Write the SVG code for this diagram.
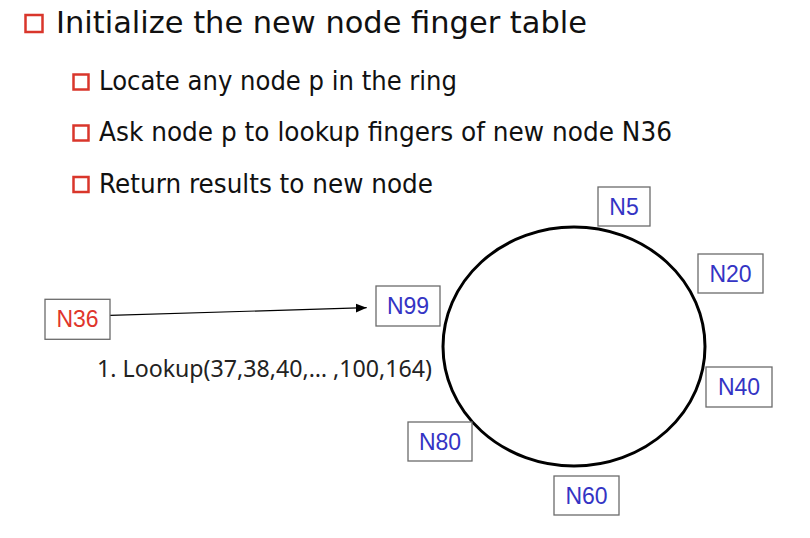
<svg xmlns="http://www.w3.org/2000/svg" width="810" height="538" viewBox="0 0 810 538">
<defs>
<style>
.bul{fill:none;stroke:#d9362b;stroke-width:2.5}
.h1{font-family:"DejaVu Sans","Noto Sans",sans-serif;font-size:30px;fill:#111}
.h2{font-family:"DejaVu Sans","Noto Sans",sans-serif;font-size:26px;fill:#111}
.box{fill:#fff;stroke:#6b6b6b;stroke-width:1.3}
.lbl{font-family:"Liberation Sans",Arial,sans-serif;font-size:23px;text-anchor:middle;fill:#3434c4}
.red{fill:#e0352b}
.cap{font-family:"Noto Sans","Open Sans",sans-serif;font-size:23px;fill:#222}
</style>
<marker id="arr" markerWidth="12" markerHeight="10" refX="11" refY="4.5" orient="auto" markerUnits="userSpaceOnUse">
<path d="M0,0 L11,4.5 L0,9 z" fill="#000"/>
</marker>
</defs>
<rect width="810" height="538" fill="#fff"/>
<g id="text">
<rect class="bul" x="25.5" y="15" width="17" height="17"/>
<text class="h1" x="56" y="33" textLength="531" lengthAdjust="spacingAndGlyphs">Initialize the new node finger table</text>
<rect class="bul" x="73.5" y="74.5" width="15" height="15"/>
<text class="h2" x="99" y="89.5" textLength="358" lengthAdjust="spacingAndGlyphs">Locate any node p in the ring</text>
<rect class="bul" x="73.5" y="125.5" width="15" height="15"/>
<text class="h2" x="99" y="141" textLength="573" lengthAdjust="spacingAndGlyphs">Ask node p to lookup fingers of new node N36</text>
<rect class="bul" x="73.5" y="177" width="15" height="15"/>
<text class="h2" x="99" y="192.5" textLength="334" lengthAdjust="spacingAndGlyphs">Return results to new node</text>
</g>
<g id="ring">
<ellipse cx="574" cy="346.5" rx="131" ry="119.5" fill="none" stroke="#000" stroke-width="3"/>
</g>
<g id="connectors">
<line x1="110" y1="315.3" x2="366.7" y2="307.7" stroke="#000" stroke-width="1.2" marker-end="url(#arr)"/>
<text class="cap" x="97" y="377.3" textLength="335" lengthAdjust="spacingAndGlyphs">1. Lookup(37,38,40,… ,100,164)</text>
</g>
<g id="N36"><rect class="box" x="45" y="299.3" width="65" height="40"/><text class="lbl red" x="77.5" y="327.3">N36</text></g>
<g id="N99"><rect class="box" x="376" y="286" width="64" height="40"/><text class="lbl" x="408" y="314">N99</text></g>
<g id="N5"><rect class="box" x="598" y="187" width="52" height="39"/><text class="lbl" x="624" y="214.5">N5</text></g>
<g id="N20"><rect class="box" x="698" y="254" width="65" height="39"/><text class="lbl" x="730.5" y="281.5">N20</text></g>
<g id="N40"><rect class="box" x="706" y="367" width="66" height="40"/><text class="lbl" x="739" y="395">N40</text></g>
<g id="N80"><rect class="box" x="408" y="422" width="64" height="39"/><text class="lbl" x="440" y="449.5">N80</text></g>
<g id="N60"><rect class="box" x="554" y="476" width="65" height="39"/><text class="lbl" x="586.5" y="503.5">N60</text></g>
</svg>
